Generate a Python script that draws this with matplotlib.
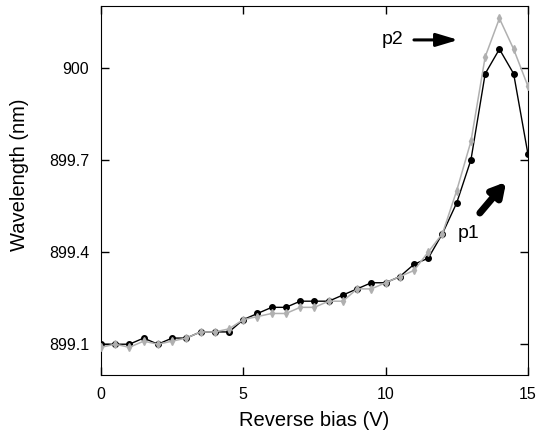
import numpy as np
import matplotlib.pyplot as plt

plt.rcParams['font.family'] = ['Liberation Sans', 'DejaVu Sans']

bias = np.arange(0, 15.01, 0.5)
p1_nm = [899.10, 899.10, 899.10, 899.12, 899.10, 899.12, 899.12, 899.14, 899.14, 899.14,
         899.18, 899.20, 899.22, 899.22, 899.24, 899.24, 899.24, 899.26, 899.28, 899.30,
         899.30, 899.32, 899.36, 899.38, 899.46, 899.56, 899.70, 899.98, 900.06, 899.98,
         899.72]
p2_nm = [899.09, 899.10, 899.09, 899.11, 899.10, 899.11, 899.12, 899.14, 899.14, 899.15,
         899.18, 899.19, 899.20, 899.20, 899.22, 899.22, 899.24, 899.24, 899.28, 899.28,
         899.30, 899.32, 899.34, 899.40, 899.46, 899.60, 899.76, 900.035, 900.16, 900.06,
         899.94]

fig = plt.figure(figsize=(5.37, 4.36), dpi=100)
ax = fig.add_axes([0.188, 0.140, 0.795, 0.846])

ax.plot(bias, p1_nm, color='black', lw=1, marker='o', ms=4, zorder=2)
ax.plot(bias, p2_nm, color='#b0b0b0', lw=1.1, marker='d', ms=4, zorder=3)

ax.set_xlim(0, 15)
ax.set_ylim(899.0, 900.2)
ax.set_xticks([0, 5, 10, 15])
ax.set_yticks([899.1, 899.4, 899.7, 900.0])
ax.set_yticklabels(['899.1', '899.4', '899.7', '900'])
ax.tick_params(direction='in', length=6, width=1, top=True, right=True,
               labelsize=11.5, colors='black')
ax.tick_params(axis='x', pad=8.5)
ax.tick_params(axis='y', pad=8.5)
ax.set_xlabel('Reverse bias (V)', fontsize=14.5)
ax.set_ylabel('Wavelength (nm)', fontsize=14.5)
ax.xaxis.set_label_coords(0.5, -0.098)
ax.yaxis.set_label_coords(-0.168, 0.542)

# p2 arrow
ax.text(10.25, 900.09, 'p2', fontsize=14, ha='center', va='center')
ax.annotate('', xy=(12.65, 900.09), xytext=(10.9, 900.09),
            arrowprops=dict(arrowstyle='-|>,head_length=0.6,head_width=0.18',
                            lw=2.2, color='black', mutation_scale=22))
# p1 arrow
ax.text(12.9, 899.46, 'p1', fontsize=14, ha='center', va='center')
ax.annotate('', xy=(14.3, 899.635), xytext=(13.25, 899.52),
            arrowprops=dict(arrowstyle='-|>,head_length=0.45,head_width=0.25',
                            lw=5, color='black', mutation_scale=18))

fig.savefig('out.png', dpi=100)
